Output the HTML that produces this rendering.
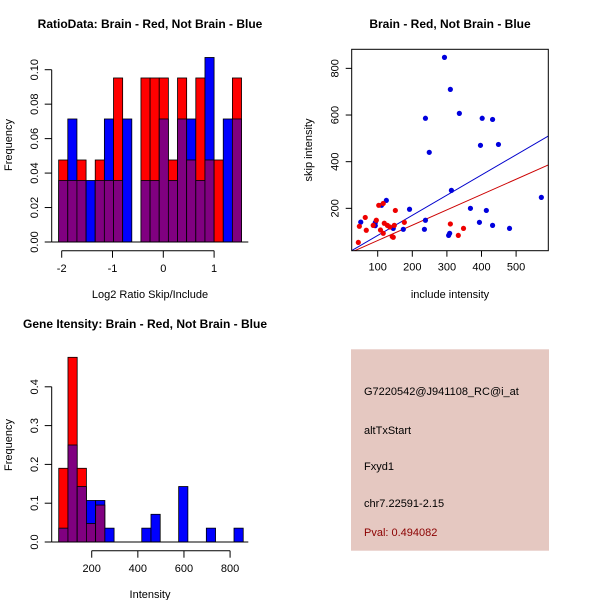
<!DOCTYPE html>
<html><head><meta charset="utf-8">
<style>
html,body{margin:0;padding:0;background:#fff;}
svg{display:block;font-family:"Liberation Sans",Arial,sans-serif;}
</style></head>
<body>
<svg id="c" width="600" height="600" viewBox="0 0 600 600"></svg>
<script>
// ---- Ratio histogram data ----
const ratioStart = -2.06;
const ratioBinWidth = 0.18;
const ratioRed  = [0.0476,0.0357,0.0476,0,0.0476,0.0357,0.0952,0,0,0.0952,0.0952,0.0952,0.0476,0.0952,0.0476,0.0952,0.0476,0.0476,0,0.0952];
const ratioBlue = [0.0357,0.0714,0.0357,0.0357,0.0357,0.0714,0.0357,0.0714,0,0.0357,0.0357,0.0714,0.0357,0.0714,0.0714,0.0357,0.1071,0,0.0714,0.0714];
const ratioXTicks = [-2,-1,0,1];
const ratioYTicks = [0,0.02,0.04,0.06,0.08,0.10];
const ratioYLabels = ["0.00","0.02","0.04","0.06","0.08","0.10"];

// ---- Scatter data ----
const blueX = [293,310,336,238,402,432,249,397,449,313,573,368,414,192,125,111,51,93,93,238,235,174,145,308,305,394,432,481];
const blueY = [847,710,607,586,586,581,440,470,474,277,247,200,191,196,234,213,141,139,126,149,110,110,114,93,84,140,127,114];
const redX = [44,47,64,67,87,96,103,116,108,116,119,128,135,142,145,148,151,177,310,333,348];
const redY = [54,123,161,106,127,149,213,221,107,93,136,127,120,79,76,127,191,140,133,84,114];
const fitSlope = [0.864,0.657];       // blue, red
const fitIntercept = [-2.6,-3.7];
const scatXTicks = [100,200,300,400,500];
const scatYTicks = [200,400,600,800];

// ---- Gene intensity histogram ----
const geneStart = 57;
const geneBinWidth = 40;
const geneRed  = [0.19,0.476,0.19,0.0476,0.0952,0,0,0,0,0,0,0,0,0,0,0,0,0,0,0];
const geneBlue = [0.0357,0.25,0.143,0.107,0.107,0.0357,0,0,0,0.0357,0.0714,0,0,0.143,0,0,0.0357,0,0,0.0357];
const geneXTicks = [200,400,600,800];
const geneYTicks = [0,0.1,0.2,0.3,0.4];
const geneYLabels = ["0.0","0.1","0.2","0.3","0.4"];

const svg = document.getElementById('c');
const NS = 'http://www.w3.org/2000/svg';
function mk(tag, attrs, parent){
  const e = document.createElementNS(NS, tag);
  for (const k in attrs) e.setAttribute(k, attrs[k]);
  (parent||svg).appendChild(e);
  return e;
}
function txt(s, x, y, opts, parent){
  const t = mk('text', Object.assign({x:x,y:y,'font-size':11,'text-anchor':'middle',fill:'#000'}, opts||{}), parent);
  t.textContent = s;
  return t;
}
function grp(name){
  const g = mk('g', {});
  
  
  return g;
}

// ===== Panel 1: ratio histogram =====
(function(){
  const g = grp('ratio-histogram');
  const xs = v => 61.7 + (v + 2) * 50.8;
  const ys = v => 242 - v * 1723;
  for (let i = 0; i < ratioRed.length; i++) {
    const x0 = xs(ratioStart + i*ratioBinWidth), x1 = xs(ratioStart + (i+1)*ratioBinWidth);
    const r = ratioRed[i], b = ratioBlue[i];
    const mx = Math.max(r,b), mn = Math.min(r,b);
    if (mx > 0) {
      const rc = mk('rect',{x:x0,y:ys(mx),width:x1-x0,height:ys(0)-ys(mx),fill:r>=b?'#ff0000':'#0000ff',stroke:'#000','stroke-width':0.8},g);
      
      
    }
    if (mn > 0) {
      const pc = mk('rect',{x:x0,y:ys(mn),width:x1-x0,height:ys(0)-ys(mn),fill:'#800080',stroke:'#000','stroke-width':0.8},g);
      
      
    }
  }
  mk('line',{x1:51.7,x2:248.3,y1:242,y2:242,stroke:'#000'},g);
  // y axis
  mk('line',{x1:51.7,x2:51.7,y1:ys(0),y2:ys(0.10),stroke:'#000'},g);
  ratioYTicks.forEach((v,i)=>{
    mk('line',{x1:44.7,x2:51.7,y1:ys(v),y2:ys(v),stroke:'#000'},g);
    txt(ratioYLabels[i],38,ys(v),{transform:`rotate(-90 38 ${ys(v)})`},g);
  });
  // x axis
  mk('line',{x1:xs(-2),x2:xs(1),y1:250.7,y2:250.7,stroke:'#000'},g);
  ratioXTicks.forEach(v=>{
    mk('line',{x1:xs(v),x2:xs(v),y1:250.7,y2:257.7,stroke:'#000'},g);
    txt(String(v),xs(v),272,{},g);
  });
  const t = txt('RatioData: Brain - Red, Not Brain - Blue',150,28,{'font-size':12,'font-weight':'bold'});
   
  const xl = txt('Log2 Ratio Skip/Include',150,298,{});
   
  const yl = txt('Frequency',12,145,{transform:'rotate(-90 12 145)'});
   
})();

// ===== Panel 2: scatter =====
(function(){
  const g = grp('intensity-scatter');
  const L=351.7,R=548.3,T=49.3,B=250.7;
  const xs = v => 343.1 + v*0.346;
  const ys = v => 255 - v*0.2333;
  mk('defs',{},g).innerHTML = `<clipPath id="sc"><rect x="${L}" y="${T}" width="${R-L}" height="${B-T}"/></clipPath>`;
  const colors = ['#0000cc','#cc0000'];
  const xmin = (L-343.1)/0.346, xmax = (R-343.1)/0.346;
  for (let i=0;i<fitSlope.length;i++){
    const ln = mk('line',{x1:xs(xmin),y1:ys(fitIntercept[i]+fitSlope[i]*xmin),x2:xs(xmax),y2:ys(fitIntercept[i]+fitSlope[i]*xmax),stroke:colors[i],'stroke-width':1,'clip-path':'url(#sc)'},g);
    
    
  }
  for (let i=0;i<blueX.length;i++){
    const c = mk('circle',{cx:xs(blueX[i]),cy:ys(blueY[i]),r:2.6,fill:'#0000dd'},g);
    
    
  }
  for (let i=0;i<redX.length;i++){
    const c = mk('circle',{cx:xs(redX[i]),cy:ys(redY[i]),r:2.6,fill:'#ee0000'},g);
    
    
  }
  mk('rect',{x:L,y:T,width:R-L,height:B-T,fill:'none',stroke:'#000'},g);
  scatXTicks.forEach(v=>{
    mk('line',{x1:xs(v),x2:xs(v),y1:B,y2:B+6,stroke:'#000'},g);
    txt(String(v),xs(v),B+20,{},g);
  });
  scatYTicks.forEach(v=>{
    mk('line',{x1:L-6,x2:L,y1:ys(v),y2:ys(v),stroke:'#000'},g);
    txt(String(v),L-13,ys(v),{transform:`rotate(-90 ${L-13} ${ys(v)})`},g);
  });
  const t = txt('Brain - Red, Not Brain - Blue',450,28,{'font-size':12,'font-weight':'bold'});
   
  const xl = txt('include intensity',450,298,{});
   
  const yl = txt('skip intensity',312,150,{transform:'rotate(-90 312 150)'});
   
})();

// ===== Panel 3: gene intensity histogram =====
(function(){
  const g = grp('gene-intensity-histogram');
  const xs = v => 45.6 + v*0.2306;
  const ys = v => 542 - v*388;
  for (let i=0;i<geneRed.length;i++){
    const x0 = xs(geneStart+i*geneBinWidth), x1 = xs(geneStart+(i+1)*geneBinWidth);
    const r = geneRed[i], b = geneBlue[i];
    const mx = Math.max(r,b), mn = Math.min(r,b);
    if (mx > 0) {
      const rc = mk('rect',{x:x0,y:ys(mx),width:x1-x0,height:ys(0)-ys(mx),fill:r>=b?'#ff0000':'#0000ff',stroke:'#000','stroke-width':0.8},g);
      
      
    }
    if (mn > 0) {
      const pc = mk('rect',{x:x0,y:ys(mn),width:x1-x0,height:ys(0)-ys(mn),fill:'#800080',stroke:'#000','stroke-width':0.8},g);
      
      
    }
  }
  mk('line',{x1:51.7,x2:248.3,y1:542,y2:542,stroke:'#000'},g);
  mk('line',{x1:51.7,x2:51.7,y1:ys(0),y2:ys(0.4),stroke:'#000'},g);
  geneYTicks.forEach((v,i)=>{
    mk('line',{x1:44.7,x2:51.7,y1:ys(v),y2:ys(v),stroke:'#000'},g);
    txt(geneYLabels[i],38,ys(v),{transform:`rotate(-90 38 ${ys(v)})`},g);
  });
  mk('line',{x1:xs(200),x2:xs(800),y1:550.7,y2:550.7,stroke:'#000'},g);
  geneXTicks.forEach(v=>{
    mk('line',{x1:xs(v),x2:xs(v),y1:550.7,y2:557.7,stroke:'#000'},g);
    txt(String(v),xs(v),572,{},g);
  });
  const t = txt('Gene Itensity: Brain - Red, Not Brain - Blue',145,328,{'font-size':12,'font-weight':'bold'});
   
  const xl = txt('Intensity',150,598,{});
   
  const yl = txt('Frequency',12,445,{transform:'rotate(-90 12 445)'});
   
})();

// ===== Panel 4: info box =====
(function(){
  const g = grp('info-panel');
  mk('rect',{x:351,y:349.3,width:198,height:201.4,fill:'#e5c8c1'},g);
  const lines = ['G7220542@J941108_RC@i_at','altTxStart','Fxyd1','chr7.22591-2.15'];
  const ys = [395,434,470,507];
  const names = ['probe-id','event-type','gene-name','location'];
  lines.forEach((s,i)=>{
    const t = txt(s,364,ys[i],{'text-anchor':'start','font-size':11},g);
     
  });
  const p = txt('Pval: 0.494082',364,536,{'text-anchor':'start','font-size':11,fill:'#8b0000'},g);
   
})();
</script>
</body></html>
